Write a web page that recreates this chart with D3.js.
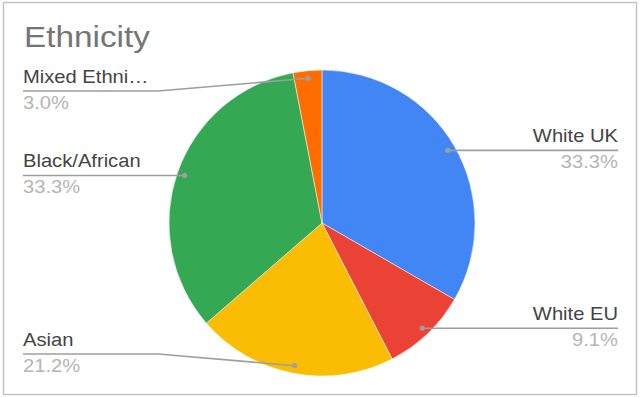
<!DOCTYPE html>
<html lang="en">
  <head>
    <meta charset="UTF-8" />
    <title>Ethnicity</title>
    <script src="https://cdn.jsdelivr.net/npm/d3@7/dist/d3.min.js"></script>
    <style>
      body { margin: 0; background: #fff; }
      text { font-family: Arial, "Liberation Sans", sans-serif; }
    </style>
  </head>
  <body>
    <div id="wrapper"></div>
    <script>
      // data
      const categories = ["White UK", "White EU", "Asian", "Black/African", "Mixed Ethnicity"];
      const labels = ["White UK", "White EU", "Asian", "Black/African", "Mixed Ethni…"];
      const counts = [11, 3, 7, 11, 1];
      const colors = ["#4285f4", "#ea4335", "#fbbc04", "#34a853", "#ff6d01"];

      const dimensions = {
        width: 640,
        height: 397,
        cx: 322,
        cy: 223,
        radius: 153,
        labelLeft: 23,
        labelRight: 618,
        bend: 158,
        minLineY: 91,
        maxLineY: 354,
      };

      const svg = d3
        .select("#wrapper")
        .append("svg")
        .attr("width", dimensions.width)
        .attr("height", dimensions.height);

      // frame
      svg
        .append("rect")
        .attr("x", 3.5)
        .attr("y", 2.5)
        .attr("width", 633)
        .attr("height", 392)
        .attr("fill", "#fff")
        .attr("stroke", "#c4c4c4")
        .attr("stroke-width", 1.5);

      svg
        .append("text")
        .attr("x", 24)
        .attr("y", 47)
        .attr("font-size", 30)
        .attr("fill", "#757575")
        .attr("transform", "translate(24,0) scale(1.11,1) translate(-24,0)")
        .text("Ethnicity");

      const data = categories.map((c, i) => ({
        name: c,
        label: labels[i],
        value: counts[i],
        color: colors[i],
      }));
      const total = d3.sum(counts);
      const pct = d3.format(".1%");

      const pie = d3.pie().sort(null).value((d) => d.value);
      const arcs = pie(data);

      const arc = d3.arc().innerRadius(0).outerRadius(dimensions.radius);
      const dotArc = d3
        .arc()
        .innerRadius(dimensions.radius * 0.95)
        .outerRadius(dimensions.radius * 0.95);

      const bounds = svg
        .append("g")
        .attr("transform", `translate(${dimensions.cx},${dimensions.cy})`);

      bounds
        .selectAll("path.slice")
        .data(arcs)
        .join("path")
        .attr("class", "slice")
        .attr("d", arc)
        .attr("fill", (d) => d.data.color)
        .attr("stroke", "#fff")
        .attr("stroke-width", 0.5);

      // labels with leader lines
      const labelG = svg.append("g");
      arcs.forEach((d) => {
        const [dx, dy] = dotArc.centroid(d);
        const px = dimensions.cx + dx;
        const py = dimensions.cy + dy;
        const mid = (d.startAngle + d.endAngle) / 2;
        const right = mid < Math.PI;
        const lineY = Math.max(dimensions.minLineY, Math.min(dimensions.maxLineY, py));
        const endX = right ? dimensions.labelRight : dimensions.labelLeft;

        let pts;
        if (Math.abs(lineY - py) > 1) {
          const bx = right ? dimensions.width - dimensions.bend : dimensions.bend;
          pts = [[px, py], [bx, lineY], [endX, lineY]];
        } else {
          pts = [[px, lineY], [endX, lineY]];
        }
        labelG
          .append("path")
          .attr("d", d3.line()(pts))
          .attr("fill", "none")
          .attr("stroke", "#9e9e9e")
          .attr("stroke-width", 1.6);
        labelG
          .append("circle")
          .attr("cx", px)
          .attr("cy", py)
          .attr("r", 2.6)
          .attr("fill", "#9e9e9e");

        const anchor = right ? "end" : "start";
        const tf = `translate(${endX},0) scale(1.12,1) translate(${-endX},0)`;
        labelG
          .append("text")
          .attr("x", endX)
          .attr("y", lineY - 8)
          .attr("text-anchor", anchor)
          .attr("font-size", 18)
          .attr("fill", "#444")
          .attr("transform", tf)
          .text(d.data.label);
        labelG
          .append("text")
          .attr("x", endX)
          .attr("y", lineY + 18)
          .attr("text-anchor", anchor)
          .attr("font-size", 18)
          .attr("fill", "#b5b5b5")
          .attr("transform", tf)
          .text(pct(d.data.value / total));
      });
    </script>
  </body>
</html>
